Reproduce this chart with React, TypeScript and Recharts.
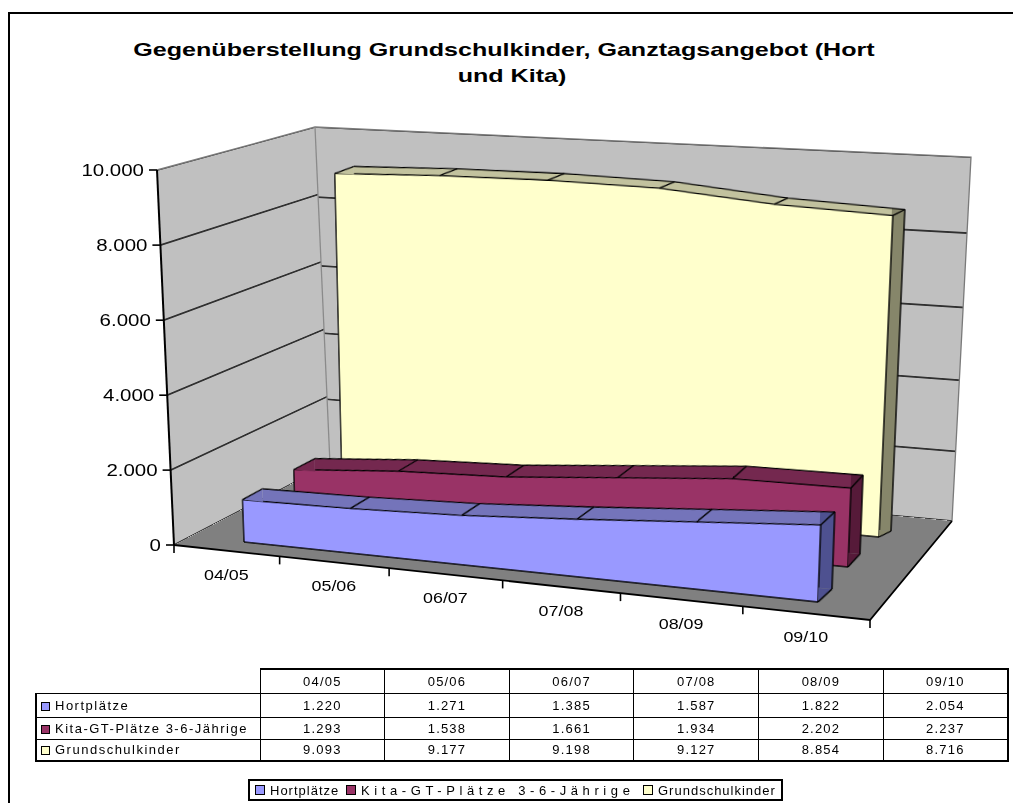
import React from "react";
import { AreaChart, Area, XAxis, YAxis, CartesianGrid, ReferenceLine } from "recharts";

// ---------- data ----------
const CATEGORIES = ["04/05", "05/06", "06/07", "07/08", "08/09", "09/10"];
const HORT = [1220, 1271, 1385, 1587, 1822, 2054];
const KITA = [1293, 1538, 1661, 1934, 2202, 2237];
const GRUNDSCHULE = [9093, 9177, 9198, 9127, 8854, 8716];
const Y_TICKS = [0, 2000, 4000, 6000, 8000, 10000];
const Y_MAX = 10000;
const TITLE_LINES = ["Gegenüberstellung Grundschulkinder, Ganztagsangebot (Hort", "und Kita)"];

type SeriesDef = { key: string; name: string; values: number[]; front: string; top: string; side: string };

const SERIES: SeriesDef[] = [
  { key: "hort", name: "Hortplätze", values: HORT, front: "#9999FF", top: "#7474BA", side: "#4E5190" },
  { key: "kita", name: "Kita-GT-Plätze 3-6-Jährige", values: KITA, front: "#993366", top: "#74284F", side: "#561A39" },
  { key: "grund", name: "Grundschulkinder", values: GRUNDSCHULE, front: "#FFFFCC", top: "#C2C29E", side: "#86866A" },
];

const rows = CATEGORIES.map((cat, i) => ({ cat, hort: HORT[i], kita: KITA[i], grund: GRUNDSCHULE[i] }));
const N = CATEGORIES.length;

// ---------- layout ----------
const FONT = '"Liberation Sans", Arial, Helvetica, sans-serif';
const STRETCH = 1.28;
const STROKE = 1.4;

type Pt = [number, number];
type Quad = [Pt, Pt, Pt, Pt]; // top-left, top-right, bottom-right, bottom-left

const BACK_WALL: Quad = [[315, 127], [971, 157], [952, 521], [330, 464]];
const LEFT_WALL: Quad = [[157, 170], [315, 127], [330, 464], [174, 545]];
const FLOOR: Quad = [[330, 464], [952, 521], [870, 620], [174, 545]];

// front face of each series (first..last category, 10000..0) and its depth offset
const FACES: Record<string, { front: Quad; depthL: Pt; depthR: Pt }> = {
  grund: { front: [[334, 141], [895, 166], [879, 537], [342, 486]], depthL: [19, -7], depthR: [12, -6] },
  kita: { front: [[285, 172], [862, 202], [848, 567], [295, 512]], depthL: [21, -11], depthR: [12, -13] },
  hort: { front: [[231, 182], [832, 212], [818, 602], [244, 542]], depthL: [20, -11], depthR: [14, -13] },
};

const WALL_W = 600, WALL_H = 400;
const PW = 600, PH = 400, PM = 30;

type Homography = { a: number; b: number; c: number; d: number; e: number; f: number; g: number; h: number };

function homography(q: Quad): Homography {
  const [[x0, y0], [x1, y1], [x2, y2], [x3, y3]] = q;
  const dx1 = x1 - x2, dx2 = x3 - x2, dx3 = x0 - x1 + x2 - x3;
  const dy1 = y1 - y2, dy2 = y3 - y2, dy3 = y0 - y1 + y2 - y3;
  const det = dx1 * dy2 - dx2 * dy1;
  const g = (dx3 * dy2 - dx2 * dy3) / det;
  const h = (dx1 * dy3 - dx3 * dy1) / det;
  return { a: x1 - x0 + g * x1, b: x3 - x0 + h * x3, c: x0, d: y1 - y0 + g * y1, e: y3 - y0 + h * y3, f: y0, g, h };
}

function project(m: Homography, u: number, v: number): Pt {
  const w = m.g * u + m.h * v + 1;
  return [(m.a * u + m.b * v + m.c) / w, (m.d * u + m.e * v + m.f) / w];
}

function cssMatrix(m: Homography, w: number, h: number, ox: number, oy: number) {
  const A = m.a / w, B = m.b / h, C = m.c - A * ox - B * oy;
  const D = m.d / w, E = m.e / h, F = m.f - D * ox - E * oy;
  const G = m.g / w, H = m.h / h, I = 1 - G * ox - H * oy;
  return `matrix3d(${A},${D},0,${G},${B},${E},0,${H},0,0,1,0,${C},${F},0,${I})`;
}

// screen offset -> offset in the plane's own chart coordinates
function toLocal(m: Homography, u: number, v: number, off: Pt): Pt {
  const eps = 1e-3;
  const p = project(m, u, v), pu = project(m, u + eps, v), pv = project(m, u, v + eps);
  const a = (pu[0] - p[0]) / eps, c = (pu[1] - p[1]) / eps;
  const b = (pv[0] - p[0]) / eps, d = (pv[1] - p[1]) / eps;
  const det = a * d - b * c;
  return [((d * off[0] - b * off[1]) / det) * PW, ((-c * off[0] + a * off[1]) / det) * PH];
}

const add = (p: Pt, o: Pt): Pt => [p[0] + o[0], p[1] + o[1]];
const fmt = (v: number) => String(v).replace(/\B(?=(\d{3})+(?!\d))/g, ".");
const pts = (list: Pt[]) => list.map((p) => p.join(",")).join(" ");

function Plane({ quad, w, h, pad = 0, children }: { quad: Quad; w: number; h: number; pad?: number; children: React.ReactNode }) {
  return (
    <div
      style={{
        position: "absolute",
        left: 0,
        top: 0,
        width: w + 2 * pad,
        height: h + 2 * pad,
        transformOrigin: "0 0",
        transform: cssMatrix(homography(quad), w, h, pad, pad),
      }}
    >
      {children}
    </div>
  );
}

function Wall({ quad }: { quad: Quad }) {
  return (
    <Plane quad={quad} w={WALL_W} h={WALL_H}>
      <AreaChart width={WALL_W} height={WALL_H} data={rows} margin={{ top: 0, right: 0, bottom: 0, left: 0 }}>
        <CartesianGrid vertical={false} fill="#C0C0C0" fillOpacity={1} stroke="#000" strokeWidth={1.4} />
        <XAxis dataKey="cat" hide />
        <YAxis hide allowDataOverflow domain={[0, Y_MAX]} ticks={Y_TICKS.filter((t) => t > 0 && t < Y_MAX)} />
      </AreaChart>
    </Plane>
  );
}

function SeriesSolid({ s }: { s: SeriesDef }) {
  const geo = FACES[s.key];
  const backQuad: Quad = [
    add(geo.front[0], geo.depthL),
    add(geo.front[1], geo.depthR),
    add(geo.front[2], geo.depthR),
    add(geo.front[3], geo.depthL),
  ];
  const hf = homography(geo.front);
  const hb = homography(backQuad);
  const first = CATEGORIES[0];
  const last = CATEGORIES[N - 1];

  const eps = 0.001;
  const pxPerU = (project(hb, 1, 0.9)[0] - project(hb, 1 - eps, 0.9)[0]) / eps;
  const stop = 1 - geo.depthR[0] / pxPerU;

  const depthAt = (x: number, y: number): Pt => {
    const u = (x - PM) / PW, v = (y - PM) / PH;
    const pf = project(hf, u, v), pb = project(hb, u, v);
    return toLocal(hf, u, v, [pb[0] - pf[0], pb[1] - pf[1]]);
  };

  const renderEdge = (props: any) => {
    const { cx, cy, index } = props;
    if (cx == null || cy == null) return <g key={`e-${index}`} />;
    const [dx, dy] = depthAt(cx, cy);
    const by = PM + PH;
    const [bx, bdy] = depthAt(cx, by);
    return (
      <g key={`e-${index}`}>
        {index === 0 && <polygon points={`${cx},${cy} ${cx + dx},${cy + dy} ${cx + dx},${cy}`} fill={s.top} />}
        {index === N - 1 && (
          <>
            <polygon points={`${cx},${by} ${cx + bx},${by + bdy} ${cx},${by + bdy}`} fill={s.side} />
            <line x1={cx} y1={by} x2={cx + bx} y2={by + bdy} stroke="#000" strokeWidth={STROKE} />
          </>
        )}
        <line x1={cx} y1={cy} x2={cx + dx} y2={cy + dy} stroke="#000" strokeWidth={STROKE} />
      </g>
    );
  };

  const chartProps = {
    width: PW + 2 * PM,
    height: PH + 2 * PM,
    data: rows,
    margin: { top: PM, right: PM, bottom: PM, left: PM },
  };

  return (
    <>
      <Plane quad={backQuad} w={PW} h={PH} pad={PM}>
        <AreaChart {...chartProps}>
          <defs>
            <linearGradient id={`depth-${s.key}`} x1="0" y1="0" x2="1" y2="0">
              <stop offset={0} stopColor={s.top} />
              <stop offset={stop} stopColor={s.top} />
              <stop offset={stop} stopColor={s.side} />
              <stop offset={1} stopColor={s.side} />
            </linearGradient>
          </defs>
          <XAxis dataKey="cat" hide />
          <YAxis hide domain={[0, Y_MAX]} />
          <Area
            type="linear"
            dataKey={s.key}
            stroke="#000"
            strokeWidth={STROKE}
            fill={`url(#depth-${s.key})`}
            fillOpacity={1}
            dot={false}
            activeDot={false}
            isAnimationActive={false}
          />
          <ReferenceLine segment={[{ x: last, y: 0 }, { x: last, y: s.values[N - 1] }]} stroke="#000" strokeWidth={STROKE} />
        </AreaChart>
      </Plane>
      <Plane quad={geo.front} w={PW} h={PH} pad={PM}>
        <AreaChart {...chartProps}>
          <XAxis dataKey="cat" hide />
          <YAxis hide domain={[0, Y_MAX]} />
          <Area
            type="linear"
            dataKey={s.key}
            stroke="#000"
            strokeWidth={STROKE}
            fill={s.front}
            fillOpacity={1}
            dot={renderEdge}
            activeDot={false}
            isAnimationActive={false}
          />
          <ReferenceLine y={0} stroke="#000" strokeWidth={STROKE} />
          <ReferenceLine segment={[{ x: first, y: 0 }, { x: first, y: s.values[0] }]} stroke="#000" strokeWidth={STROKE} />
          <ReferenceLine segment={[{ x: last, y: 0 }, { x: last, y: s.values[N - 1] }]} stroke="#000" strokeWidth={STROKE} />
        </AreaChart>
      </Plane>
    </>
  );
}

function Edges() {
  const L = LEFT_WALL, B = BACK_WALL, F = FLOOR;
  return (
    <svg width={1013} height={803} style={{ position: "absolute", left: 0, top: 0 }}>
      <polyline points={pts([L[0], L[1], B[1], B[2]])} fill="none" stroke="#7a7a7a" strokeWidth={1.3} />
      <line x1={B[0][0]} y1={B[0][1]} x2={B[3][0]} y2={B[3][1]} stroke="#8a8a8a" strokeWidth={1.3} />
      <polyline points={pts([F[3], F[2], F[1]])} fill="none" stroke="#000" strokeWidth={1.8} />
      <line x1={L[0][0]} y1={L[0][1]} x2={L[3][0]} y2={L[3][1]} stroke="#000" strokeWidth={2} />
    </svg>
  );
}

// axis overlay geometry
const OV_M = 100, OV_YW = 50, OV_XH = 30;
const OV_W = 1013, OV_H = 803;
const PLOT_L = OV_M + OV_YW, PLOT_T = OV_M;
const PLOT_W = OV_W - 2 * OV_M - OV_YW, PLOT_H = OV_H - 2 * OV_M - OV_XH;
const H_LEFT = homography(LEFT_WALL);
const H_FLOOR = homography(FLOOR);

function YTick(props: any) {
  const { y, payload } = props;
  const v = (y - PLOT_T) / PLOT_H;
  const [px, py] = project(H_LEFT, 0, v);
  return (
    <g>
      <line x1={px - 8} y1={py} x2={px} y2={py} stroke="#000" strokeWidth={1.6} />
      <text
        transform={`translate(${px - 13} ${py + 5.5}) scale(${STRETCH} 1)`}
        textAnchor="end"
        fontSize={16}
        fontFamily={FONT}
        fill="#000"
      >
        {fmt(payload.value)}
      </text>
    </g>
  );
}

function XTick(props: any) {
  const { x, payload, index } = props;
  const u = (x - PLOT_L) / PLOT_W;
  const half = 1 / (2 * N);
  const [cx, cy] = project(H_FLOOR, u, 1);
  const [rx, ry] = project(H_FLOOR, u + half, 1);
  const [lx, ly] = project(H_FLOOR, u - half, 1);
  return (
    <g>
      {index === 0 && <line x1={lx} y1={ly} x2={lx} y2={ly + 8} stroke="#000" strokeWidth={1.6} />}
      <line x1={rx} y1={ry} x2={rx} y2={ry + 8} stroke="#000" strokeWidth={1.6} />
      <text
        transform={`translate(${cx} ${cy + 29}) scale(${STRETCH} 1)`}
        textAnchor="middle"
        fontSize={14}
        fontFamily={FONT}
        fill="#000"
      >
        {payload.value}
      </text>
    </g>
  );
}

function AxesOverlay() {
  return (
    <div style={{ position: "absolute", left: 0, top: 0 }}>
      <AreaChart width={OV_W} height={OV_H} data={rows} margin={{ top: OV_M, right: OV_M, bottom: OV_M, left: OV_M }}>
        <XAxis
          dataKey="cat"
          height={OV_XH}
          padding={{ left: PLOT_W / (2 * N), right: PLOT_W / (2 * N) }}
          axisLine={false}
          tickLine={false}
          interval={0}
          tick={(p: any) => <XTick key={`x-${p.index}`} {...p} />}
        />
        <YAxis
          width={OV_YW}
          allowDataOverflow
          domain={[0, Y_MAX]}
          ticks={Y_TICKS}
          interval={0}
          axisLine={false}
          tickLine={false}
          tick={(p: any) => <YTick key={`y-${p.index}`} {...p} />}
        />
      </AreaChart>
    </div>
  );
}

const TITLE_STRETCH = 1.32;
const TITLE_CENTERS = [504, 512];

function Title() {
  const line = (text: string, top: number, center: number) => (
    <div
      style={{
        position: "absolute",
        left: center - 500,
        top,
        width: 1000,
        textAlign: "center",
        fontWeight: "bold",
        fontSize: 19,
        lineHeight: "19px",
        whiteSpace: "nowrap",
        transform: `scaleX(${TITLE_STRETCH})`,
        transformOrigin: "50% 50%",
      }}
    >
      {text}
    </div>
  );
  return (
    <>
      {line(TITLE_LINES[0], 40, TITLE_CENTERS[0])}
      {line(TITLE_LINES[1], 66, TITLE_CENTERS[1])}
    </>
  );
}

const COL_W = 124.67;
const ROW_H = [24, 24, 22, 22];

function Swatch({ color, size }: { color: string; size: number }) {
  return (
    <span
      style={{
        display: "inline-block",
        width: size,
        height: size,
        boxSizing: "border-box",
        background: color,
        border: "1px solid #000",
        verticalAlign: "middle",
      }}
    />
  );
}

function DataTable() {
  const thin = "1px solid #000";
  const thick = "2px solid #000";
  const cell = (r: number, c: number): React.CSSProperties => ({
    borderTop: r === 0 ? thick : thin,
    borderBottom: r === SERIES.length ? thick : thin,
    borderLeft: c === 0 ? thick : thin,
    borderRight: c === N ? thick : thin,
    padding: 0,
    textAlign: c === 0 ? "left" : "center",
    verticalAlign: "middle",
    whiteSpace: "nowrap",
    overflow: "hidden",
  });
  return (
    <table
      style={{
        position: "absolute",
        left: 35,
        top: 668,
        borderCollapse: "collapse",
        tableLayout: "fixed",
        width: 224 + N * COL_W,
        fontSize: 13,
        fontFamily: FONT,
        letterSpacing: "1.2px",
      }}
    >
      <colgroup>
        <col style={{ width: 224 }} />
        {CATEGORIES.map((c) => (
          <col key={c} style={{ width: COL_W }} />
        ))}
      </colgroup>
      <tbody>
        <tr style={{ height: ROW_H[0] }}>
          <td style={{ border: "none", padding: 0 }} />
          {CATEGORIES.map((c, i) => (
            <td key={c} style={cell(0, i + 1)}>
              {c}
            </td>
          ))}
        </tr>
        {SERIES.map((s, r) => (
          <tr key={s.key} style={{ height: ROW_H[r + 1] }}>
            <td style={{ ...cell(r + 1, 0), letterSpacing: "1.5px" }}>
              <span style={{ marginLeft: 4, marginRight: 5 }}>
                <Swatch color={s.front} size={9} />
              </span>
              {s.name}
            </td>
            {s.values.map((v, i) => (
              <td key={i} style={cell(r + 1, i + 1)}>
                {fmt(v)}
              </td>
            ))}
          </tr>
        ))}
      </tbody>
    </table>
  );
}

const LEGEND_ITEMS_X = [255, 346, 643];
const LEGEND_SPACING = [1, 4.6, 1];

function LegendBox() {
  return (
    <div
      style={{
        position: "absolute",
        left: 248,
        top: 779,
        width: 535,
        height: 22,
        boxSizing: "border-box",
        border: "2px solid #000",
        fontFamily: FONT,
        fontSize: 13,
      }}
    >
      {SERIES.map((s, i) => (
        <div
          key={s.key}
          style={{
            position: "absolute",
            left: LEGEND_ITEMS_X[i] - 250,
            top: 0,
            height: 18,
            display: "flex",
            alignItems: "center",
            whiteSpace: "nowrap",
            letterSpacing: `${LEGEND_SPACING[i]}px`,
          }}
        >
          <Swatch color={s.front} size={10} />
          <span style={{ marginLeft: 5 }}>{s.name}</span>
        </div>
      ))}
    </div>
  );
}

export default function App() {
  return (
    <div
      style={{
        position: "absolute",
        left: 0,
        top: 0,
        width: 1013,
        height: 803,
        overflow: "hidden",
        background: "#fff",
        fontFamily: FONT,
        color: "#000",
      }}
    >
      <div
        style={{
          position: "absolute",
          left: 8,
          top: 12,
          width: 1100,
          height: 900,
          borderTop: "2px solid #000",
          borderLeft: "2px solid #000",
        }}
      />
      <Title />
      <Wall quad={BACK_WALL} />
      <Wall quad={LEFT_WALL} />
      <Plane quad={FLOOR} w={WALL_W} h={WALL_H}>
        <div style={{ width: "100%", height: "100%", background: "#808080" }} />
      </Plane>
      <Edges />
      {[...SERIES].reverse().map((s) => (
        <SeriesSolid key={s.key} s={s} />
      ))}
      <AxesOverlay />
      <DataTable />
      <LegendBox />
    </div>
  );
}
